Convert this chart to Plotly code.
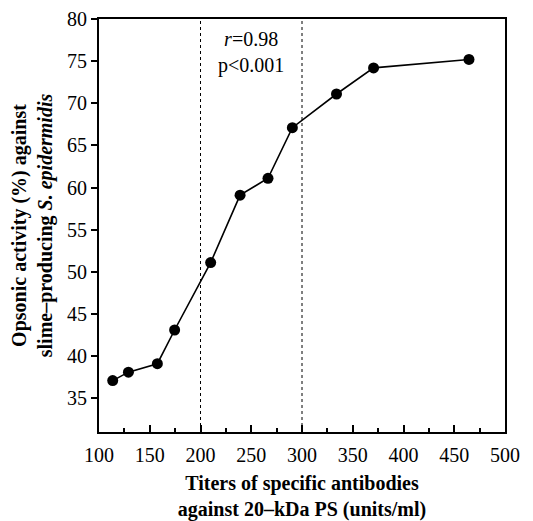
import plotly.graph_objects as go

# Data
titers = [113.5, 129, 157.5, 174.5, 210, 239, 266.5, 290.5, 334, 370.5, 464.5]
opsonic = [37.1, 38.1, 39.1, 43.1, 51.1, 59.1, 61.1, 67.1, 71.1, 74.2, 75.2]
reference_titers = [200, 300]
x_ticks = [100, 150, 200, 250, 300, 350, 400, 450, 500]
y_ticks = [35, 40, 45, 50, 55, 60, 65, 70, 75, 80]

FONT = "Liberation Serif, Times New Roman, serif"

fig = go.Figure()
fig.add_trace(go.Scatter(
    x=titers, y=opsonic, mode="lines+markers",
    line=dict(color="black", width=1.6),
    marker=dict(color="black", size=11),
    showlegend=False,
))

for xv in reference_titers:
    fig.add_shape(type="line", xref="x", yref="paper", x0=xv, x1=xv, y0=0, y1=1,
                  line=dict(color="black", width=1, dash="dot"))

fig.add_annotation(x=250, y=0.918, xref="x", yref="paper", yanchor="middle",
                   text="<i>r</i>=0.98<br>p<0.001", showarrow=False,
                   font=dict(family=FONT, size=20, color="black"), align="center")

# browser body has an 8px default margin; size the figure to fit the 533x521 window
fig.update_layout(
    width=525, height=513,
    margin=dict(l=91, r=28, t=11, b=89, autoexpand=False),
    paper_bgcolor="white", plot_bgcolor="white",
    font=dict(family=FONT, size=20, color="black"),
)
fig.update_xaxes(
    range=[100, 500], tickvals=x_ticks, ticks="inside", ticklen=7, tickwidth=1.5,
    tickcolor="black", showgrid=False, zeroline=False, automargin=False,
    showline=True, linecolor="black", linewidth=2, mirror=True,
    minor=dict(ticks="inside", ticklen=4, dtick=25, tick0=100, tickcolor="black", tickwidth=1.5, showgrid=False),
    tickfont=dict(family=FONT, size=20), ticklabelstandoff=4,
    title=dict(text="<b>Titers of specific antibodies<br>against 20–kDa PS (units/ml)</b>",
               font=dict(family=FONT, size=20), standoff=20),
)
fig.update_yaxes(
    range=[31, 80], tickvals=y_ticks, ticks="outside", ticklen=6, tickwidth=1.5,
    tickcolor="black", showgrid=False, zeroline=False, automargin=False,
    showline=True, linecolor="black", linewidth=2, mirror=True,
    tickfont=dict(family=FONT, size=20),
    title=dict(text="<b>Opsonic activity (%) against<br>slime–producing <i>S. epidermidis</i></b>",
               font=dict(family=FONT, size=20), standoff=10),
)

fig.write_html("out.html")
